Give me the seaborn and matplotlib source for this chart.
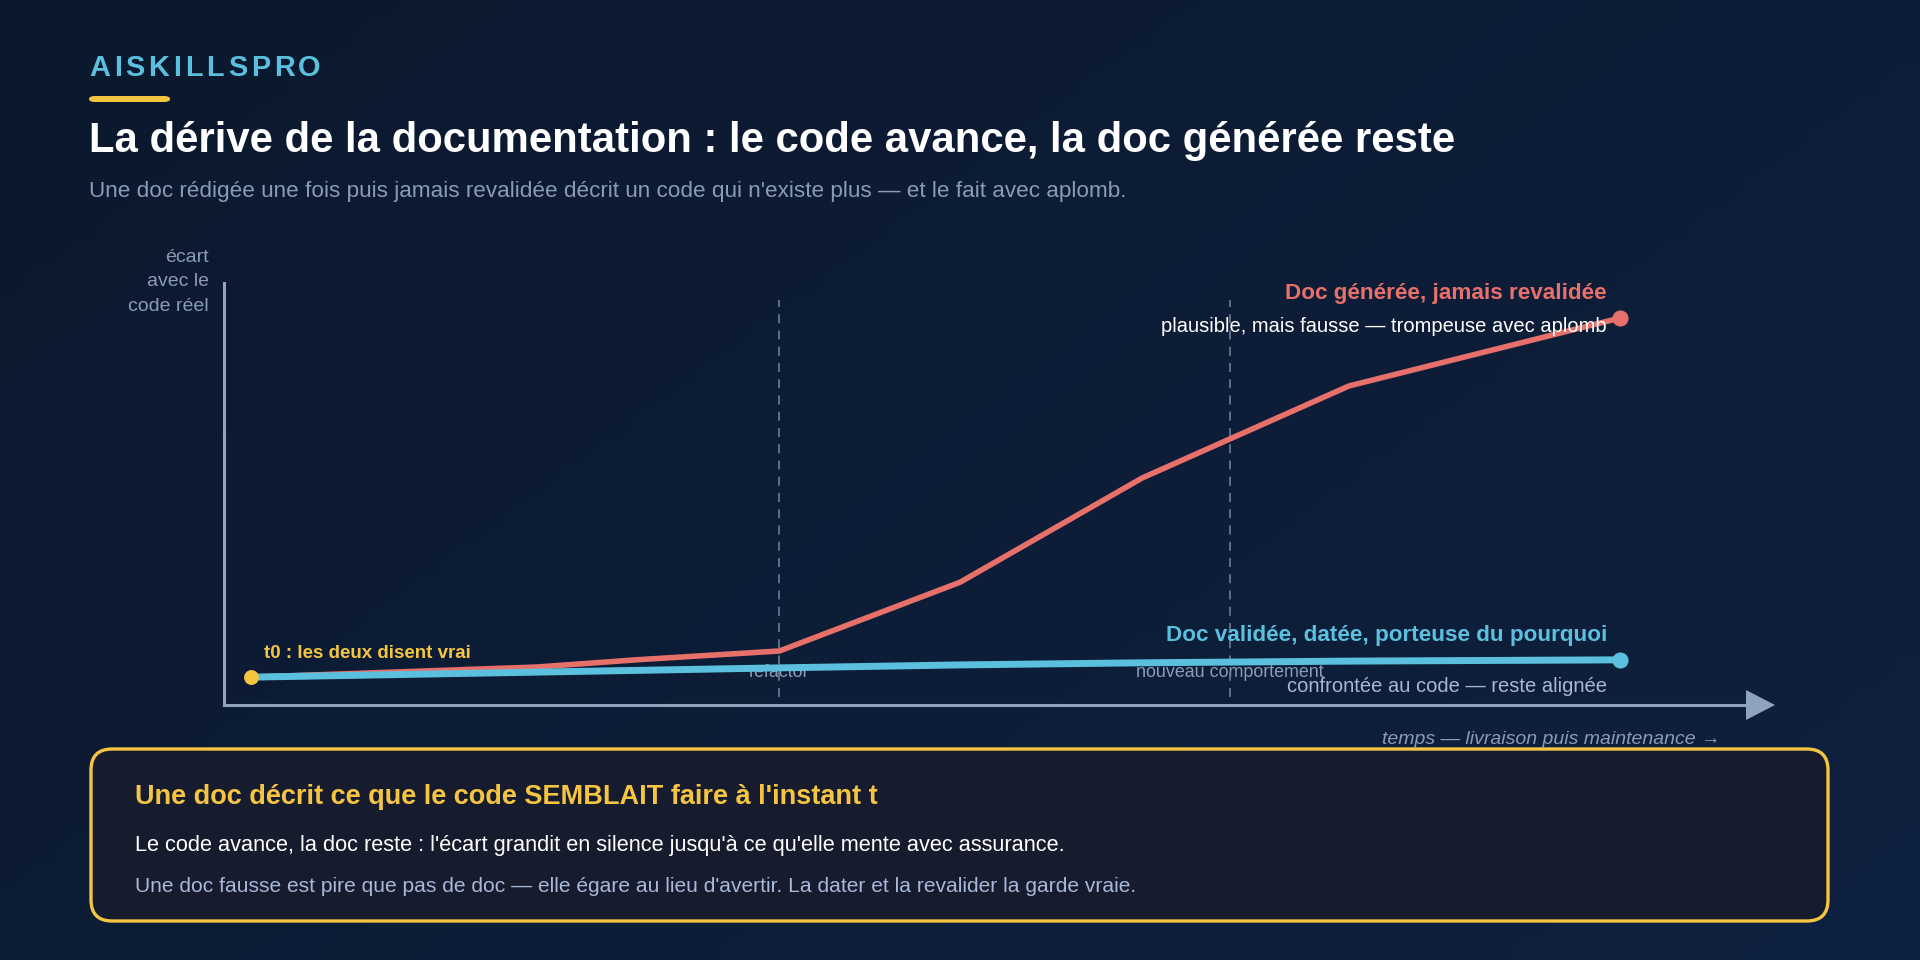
import numpy as np
import pandas as pd
import matplotlib
matplotlib.use("Agg")
import matplotlib.pyplot as plt
import seaborn as sns
from matplotlib.patches import FancyBboxPatch, Polygon

# ---------------- data ----------------
red_t = [0.0, 2.09, 2.81, 3.86, 5.18, 6.51, 8.02, 10.0]
red_gap = [6.6, 9.0, 10.7, 12.8, 29.1, 53.8, 75.6, 91.7]
blue_t = [0.0, 3.86, 5.18, 6.51, 8.02, 10.0]
blue_gap = [6.6, 8.8, 9.5, 10.0, 10.4, 10.7]
event_t = [3.86, 7.15]
event_labels = ["refactor", "nouveau comportement"]

brand = "AISKILLSPRO"
title = "La dérive de la documentation : le code avance, la doc générée reste"
subtitle = "Une doc rédigée une fois puis jamais revalidée décrit un code qui n'existe plus — et le fait avec aplomb."
ylabel_lines = "écart\navec le\ncode réel"
xlabel = "temps — livraison puis maintenance →"
red_label = "Doc générée, jamais revalidée"
red_sub = "plausible, mais fausse — trompeuse avec aplomb"
blue_label = "Doc validée, datée, porteuse du pourquoi"
blue_sub = "confrontée au code — reste alignée"
start_label = "t0 : les deux disent vrai"
box_title = "Une doc décrit ce que le code SEMBLAIT faire à l'instant t"
box_line1 = "Le code avance, la doc reste : l'écart grandit en silence jusqu'à ce qu'elle mente avec assurance."
box_line2 = "Une doc fausse est pire que pas de doc — elle égare au lieu d'avertir. La dater et la revalider la garde vraie."

# ---------------- style ----------------
BG1 = "#0b192d"
BG2 = "#0f2140"
RED = "#e8706a"
BLUE = "#5bc0de"
YEL = "#f5c542"
AXC = "#8fa3bf"
GREY = "#8a9bb8"

sns.set_theme(style="dark")
plt.rcParams["font.family"] = ["Liberation Sans", "DejaVu Sans"]

W, H = 1920, 960
fig = plt.figure(figsize=(19.2, 9.6), dpi=100)
renderer = fig.canvas.get_renderer()

def fx(x):
    return x / W

def fy(y):
    return 1 - y / H

# background gradient
bg = fig.add_axes([0, 0, 1, 1], zorder=-10)
gx, gy = np.meshgrid(np.linspace(0, 1, 200), np.linspace(0, 1, 100))
g = (gx * 0.6 + gy * 0.4)
c1 = np.array(matplotlib.colors.to_rgb(BG1))
c2 = np.array(matplotlib.colors.to_rgb(BG2))
img = c1[None, None, :] * (1 - g[..., None]) + c2[None, None, :] * g[..., None]
bg.imshow(img, aspect="auto", extent=[0, 1, 1, 0])
bg.set_axis_off()

# ---------------- header ----------------
# letter-spaced brand
xcur = 89
for ch in brand:
    t = fig.text(fx(xcur), fy(68), ch, color=BLUE, fontsize=20.8, fontweight="bold",
                 va="center", ha="left")
    w = t.get_window_extent(renderer).width
    xcur += w + 3.8

fig.patches.append(FancyBboxPatch((fx(89), fy(102)), fx(170) - fx(89), fy(96) - fy(102),
                                  boxstyle="round,pad=0,rounding_size=0.003",
                                  transform=fig.transFigure, color=YEL, lw=0))
fig.text(fx(89), fy(152), title, color="white", fontsize=30.2, fontweight="bold",
         va="baseline", ha="left")
fig.text(fx(89), fy(192), subtitle, color=GREY, fontsize=16.2, va="center", ha="left")

# ---------------- main axes ----------------
ax_l, ax_r, ax_t, ax_b = 224, 1748, 283, 705
ax = fig.add_axes([fx(ax_l), fy(ax_b), fx(ax_r) - fx(ax_l), fy(ax_t) - fy(ax_b)])
ax.set_facecolor("none")
ppu_x = 136.9
ax.set_xlim((ax_l - 251) / ppu_x, (ax_r - 251) / ppu_x)
ax.set_ylim(0, 100)
for s in ["top", "right"]:
    ax.spines[s].set_visible(False)
for s in ["left", "bottom"]:
    ax.spines[s].set_color(AXC)
    ax.spines[s].set_linewidth(2.2)
ax.set_xticks([])
ax.set_yticks([])
ax.grid(False)

# event lines + labels
ax.vlines(event_t, 1.9, 96.0, colors="#66758f", linestyles=(0, (5, 4)), linewidth=1.3, zorder=2)
for t, lab in zip(event_t, event_labels):
    ax.text(t, 7.6, lab, color=GREY, fontsize=12.9, ha="center", va="center", zorder=1)

df_red = pd.DataFrame({"t": red_t, "gap": red_gap})
df_blue = pd.DataFrame({"t": blue_t, "gap": blue_gap})
sns.lineplot(data=df_red, x="t", y="gap", ax=ax, color=RED, linewidth=4.0,
             solid_capstyle="round", solid_joinstyle="round", zorder=3)
sns.lineplot(data=df_blue, x="t", y="gap", ax=ax, color=BLUE, linewidth=5.0,
             solid_capstyle="round", solid_joinstyle="round", zorder=4)
ax.set_xlabel("")
ax.set_ylabel("")

ax.scatter([red_t[-1]], [red_gap[-1]], s=135, color=RED, zorder=5, linewidths=0, clip_on=False)
ax.scatter([blue_t[-1]], [blue_gap[-1]], s=135, color=BLUE, zorder=5, linewidths=0, clip_on=False)
ax.scatter([red_t[0]], [red_gap[0]], s=115, color=YEL, zorder=6, linewidths=0, clip_on=False)

xr = (1607 - 251) / ppu_x
ax.text(xr, (705 - 293) / 4.22, red_label, color=RED, fontsize=16.2, fontweight="bold",
        ha="right", va="center", zorder=7)
ax.text(xr, (705 - 327) / 4.22, red_sub, color="white", fontsize=14.5,
        ha="right", va="center", zorder=7)
ax.text(xr, (705 - 635) / 4.22, blue_label, color=BLUE, fontsize=16.2, fontweight="bold",
        ha="right", va="center", zorder=7)
ax.text(xr, (705 - 687) / 4.22, blue_sub, color="#a9b8d0", fontsize=14.5,
        ha="right", va="center", zorder=7)
ax.text((264 - 251) / ppu_x, (705 - 654) / 4.22, start_label, color=YEL, fontsize=13.5,
        fontweight="bold", ha="left", va="center", zorder=7)

# arrow head
fig.patches.append(Polygon([[fx(1746), fy(690)], [fx(1775), fy(705)], [fx(1746), fy(720)]],
                           closed=True, transform=fig.transFigure, color=AXC, lw=0))

# axis labels
fig.text(fx(209), fy(282), ylabel_lines, color=GREY, fontsize=14, ha="right", va="center",
         linespacing=1.55)
fig.text(fx(1721), fy(740), xlabel, color=GREY, fontsize=14, style="italic",
         ha="right", va="center")

# ---------------- callout box ----------------
box = FancyBboxPatch((fx(91), fy(921)), fx(1828) - fx(91), fy(749) - fy(921),
                     boxstyle="round,pad=0,rounding_size=0.011",
                     transform=fig.transFigure, facecolor="#161b2e", edgecolor=YEL, lw=2.4,
                     mutation_aspect=2.0)
fig.patches.append(box)
fig.text(fx(135), fy(797), box_title, color=YEL, fontsize=19.5, fontweight="bold",
         ha="left", va="center")
fig.text(fx(135), fy(846), box_line1, color="white", fontsize=15.65, ha="left", va="center")
fig.text(fx(135), fy(887), box_line2, color="#a9b8d8", fontsize=15.15, ha="left", va="center")

fig.savefig("out.png", dpi=100, facecolor=BG1)
